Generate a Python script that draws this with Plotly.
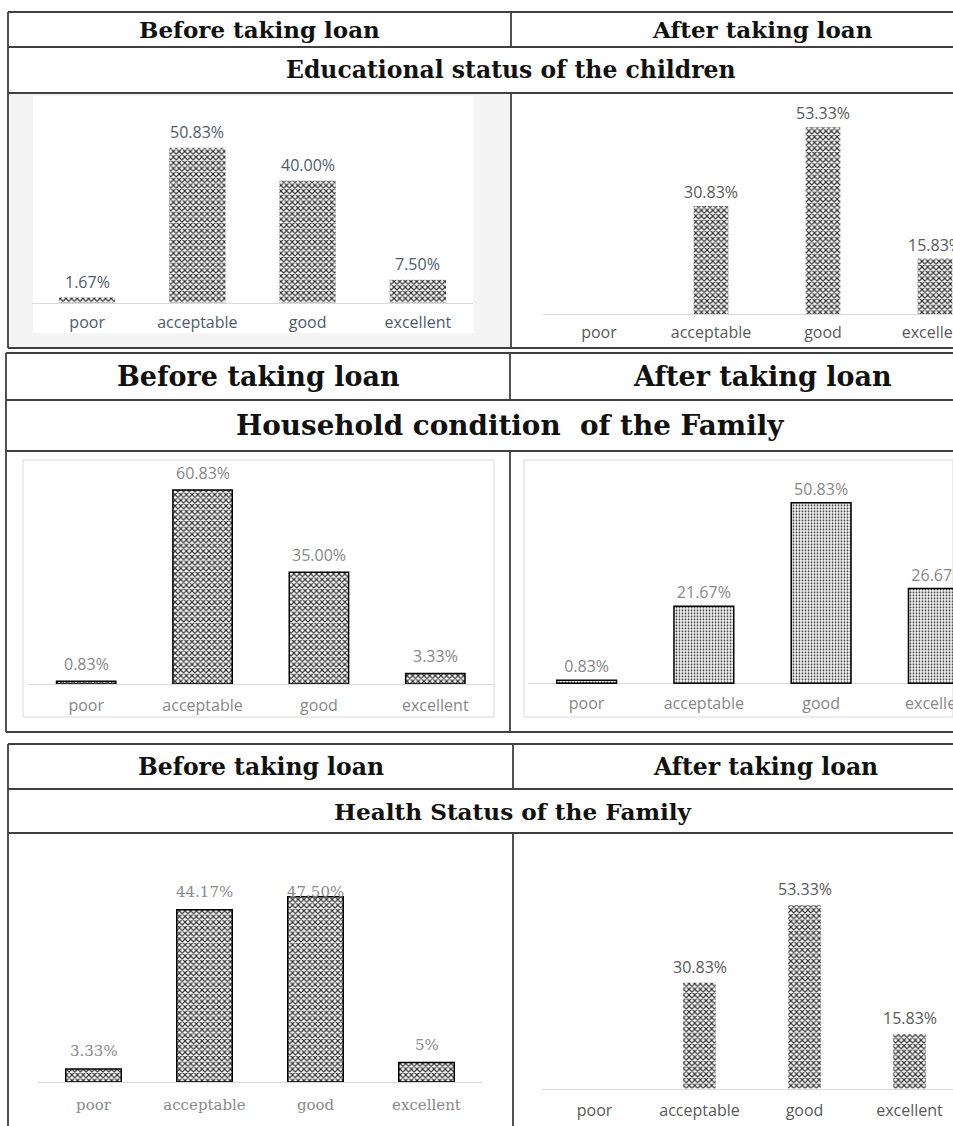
import plotly.graph_objects as go

W, H = 953, 1126

# ---------------- data ----------------
categories = ["poor", "acceptable", "good", "excellent"]
edu_before = [1.67, 50.83, 40.00, 7.50]
edu_after = [0, 30.83, 53.33, 15.83]
house_before = [0.83, 60.83, 35.00, 3.33]
house_after = [0.83, 21.67, 50.83, 26.67]
health_before = [3.33, 44.17, 47.50, 5.00]
health_after = [0, 30.83, 53.33, 15.83]
health_before_labels = ["3.33%", "44.17%", "47.50%", "5%"]

col_titles = ["Before taking loan", "After taking loan"]
section_titles = ["Educational status of the children",
                  "Household condition  of the Family",
                  "Health Status of the Family"]


def X(px):
    return min(max(px, 0), W) / W


def Y(py):
    return 1 - min(max(py, 0), H) / H


def fmt(vals):
    return ["" if v == 0 else f"{v:.2f}%" for v in vals]


SANS = "Open Sans, Lato, sans-serif"
SERIF = "DejaVu Serif, serif"

# edge=True: the chart is cut by the right edge of the picture, so its value labels and
# category labels are drawn inside the (clipped) plot area instead of overflowing the page
charts = [
    dict(vals=edu_before, labels=fmt(edu_before), x0=32, x1=473, xend=3.5, base=302.7, scale=3.05,
         width=0.51, shape="x", psize=4, sol=0.5, fg="#333333", line=0, font=SANS,
         lcolor="#4d5b6e", tcolor="#4d5b6e", stand=5, gap=16, fsize=16, shifts=None, edge=False),
    dict(vals=edu_after, labels=fmt(edu_after), x0=543, x1=953, xend=3.5 - (991 - 953) / 112, base=314, scale=3.5,
         width=0.31, shape="x", psize=4, sol=0.5, fg="#333333", line=0, font=SANS,
         lcolor="#595959", tcolor="#595959", stand=19.5, gap=16, fsize=16, shifts=None, edge=True),
    dict(vals=house_before, labels=fmt(house_before), x0=28, x1=493.5, xend=3.5, base=684, scale=3.19,
         width=0.51, shape="x", psize=4, sol=0.5, fg="#333333", line=1.5, font=SANS,
         lcolor="#878787", tcolor="#878787", stand=7, gap=17, fsize=16, shifts=None, edge=False),
    dict(vals=house_after, labels=fmt(house_after), x0=528, x1=953, xend=3.5 - (997 - 953) / 117.3, base=683.3, scale=3.55,
         width=0.51, shape=".", psize=3, sol=0.35, fg="#3a3a3a", line=1.5, font=SANS,
         lcolor="#878787", tcolor="#878787", stand=21.5, gap=17, fsize=16, shifts=None, edge=True),
    dict(vals=health_before, labels=health_before_labels, x0=38, x1=482, xend=3.5, base=1082, scale=3.9,
         width=0.5, shape="x", psize=4, sol=0.5, fg="#333333", line=1.5, font=SERIF,
         lcolor="#8a8a8a", tcolor="#8a8a8a", stand=9, gap=18, fsize=15, shifts={2: 5}, edge=False),
    dict(vals=health_after, labels=fmt(health_after), x0=542, x1=953, xend=3.5 - (962 - 953) / 105, base=1088.7, scale=3.44,
         width=0.31, shape="x", psize=4, sol=0.5, fg="#333333", line=0, font=SANS,
         lcolor="#595959", tcolor="#595959", stand=7, gap=16, fsize=16, shifts=None, edge=False),
]

fig = go.Figure()
layout = {}
annotations = []
shapes = []

# ---------- background cells / chart frames ----------
shapes.append(dict(type="rect", xref="paper", yref="paper", x0=X(9), x1=X(510), y0=Y(347), y1=Y(94),
                   fillcolor="#f4f4f4", line=dict(width=0), layer="below"))
shapes.append(dict(type="rect", xref="paper", yref="paper", x0=X(33), x1=X(474), y0=Y(333), y1=Y(96),
                   fillcolor="#ffffff", line=dict(width=0), layer="below"))
for (a, b) in [(23, 494), (524, 953)]:
    shapes.append(dict(type="rect", xref="paper", yref="paper", x0=X(a), x1=X(b), y0=Y(717), y1=Y(460),
                       fillcolor="rgba(0,0,0,0)", line=dict(color="#d9d9d9", width=1), layer="below"))

for i, c in enumerate(charts, start=1):
    ymax = 70
    below = 34 if c["edge"] else 0          # px of room under the baseline (edge charts only)
    top = c["base"] - ymax * c["scale"]
    ymin = -below / c["scale"]
    xa = "xaxis" if i == 1 else f"xaxis{i}"
    ya = "yaxis" if i == 1 else f"yaxis{i}"
    xr = "x" if i == 1 else f"x{i}"
    yr = "y" if i == 1 else f"y{i}"
    bar_kw = {}
    if c["edge"]:
        bar_kw = dict(text=c["labels"], textposition="outside", cliponaxis=True, constraintext="none",
                      textangle=0,
                      outsidetextfont=dict(family=c["font"], size=c["fsize"], color=c["lcolor"]))
    fig.add_trace(go.Bar(
        x=categories, y=c["vals"], width=c["width"], xaxis=xr, yaxis=yr,
        marker=dict(color="white",
                    pattern=dict(shape=c["shape"], size=c["psize"], solidity=c["sol"],
                                 fgcolor=c["fg"], bgcolor="white", fillmode="replace"),
                    line=dict(color="black", width=c["line"])),
        showlegend=False, hoverinfo="skip", **bar_kw))
    if c["edge"]:
        # category names as clipped text just under the baseline
        fig.add_trace(go.Scatter(
            x=categories, y=[-c["stand"] / c["scale"]] * len(categories), mode="text",
            text=categories, textposition="middle center", cliponaxis=True,
            textfont=dict(family=c["font"], size=c["fsize"], color=c["tcolor"]),
            xaxis=xr, yaxis=yr, showlegend=False, hoverinfo="skip"))
        layout[xa] = dict(domain=[X(c["x0"]), X(c["x1"])], anchor=yr, type="category",
                          range=[-0.5, c["xend"]], showline=False, showticklabels=False,
                          showgrid=False, zeroline=False, ticks="", fixedrange=True)
        layout[ya] = dict(domain=[Y(c["base"] + below), Y(top)], anchor=xr, range=[ymin, ymax],
                          showticklabels=False, ticks="", showgrid=False, showline=False,
                          zeroline=True, zerolinecolor="#d9d9d9", zerolinewidth=1, fixedrange=True)
    else:
        layout[xa] = dict(domain=[X(c["x0"]), X(c["x1"])], anchor=yr, type="category",
                          range=[-0.5, c["xend"]], showline=True, linecolor="#d9d9d9", linewidth=1,
                          showgrid=False, zeroline=False, ticks="", fixedrange=True,
                          tickfont=dict(family=c["font"], size=c["fsize"], color=c["tcolor"]),
                          ticklabelstandoff=c["stand"])
        layout[ya] = dict(domain=[Y(c["base"]), Y(top)], anchor=xr, range=[0, ymax], visible=False,
                          fixedrange=True)
        for j, (cat, v, t) in enumerate(zip(categories, c["vals"], c["labels"])):
            if not t:
                continue
            shift = c["gap"]
            if c["shifts"] and j in c["shifts"]:
                shift = c["shifts"][j]
            annotations.append(dict(x=cat, y=v, xref=xr, yref=yr, text=t, showarrow=False,
                                    yanchor="middle", yshift=shift,
                                    font=dict(family=c["font"], size=c["fsize"], color=c["lcolor"])))

# ---------- table grids ----------
LC = "#404040"
LW = 1.8
tables = [
    dict(left=8, top=12, r1=47, r2=93, bottom=348, div=511, f1=23, f2=23.5),
    dict(left=6, top=353, r1=400, r2=451, bottom=732, div=510, f1=27, f2=27.8),
    dict(left=8, top=744, r1=789, r2=833, bottom=None, div=513, f1=23.5, f2=23.2),
]


def hline(y, x0, x1):
    shapes.append(dict(type="line", xref="paper", yref="paper", x0=X(x0), x1=X(x1), y0=Y(y), y1=Y(y),
                       line=dict(color=LC, width=LW)))


def vline(x, y0, y1):
    shapes.append(dict(type="line", xref="paper", yref="paper", x0=X(x), x1=X(x), y0=Y(y0), y1=Y(y1),
                       line=dict(color=LC, width=LW)))


for k, t in enumerate(tables):
    bottom = t["bottom"] if t["bottom"] is not None else H
    for y in (t["top"], t["r1"], t["r2"], t["bottom"]):
        if y is not None:
            hline(y, t["left"], W)
    vline(t["left"], t["top"], bottom)
    vline(t["div"], t["top"], t["r1"])
    vline(t["div"], t["r2"], bottom)
    right = 2 * t["div"] - t["left"]
    cy1 = (t["top"] + t["r1"]) / 2
    cy2 = (t["r1"] + t["r2"]) / 2
    for txt, cx in zip(col_titles, [(t["left"] + t["div"]) / 2, (t["div"] + right) / 2]):
        annotations.append(dict(x=cx / W, y=Y(cy1), xref="paper", yref="paper", text=txt,
                                showarrow=False, xanchor="center", yanchor="middle",
                                font=dict(family=SERIF, size=t["f1"], color="#111111", weight="bold")))
    annotations.append(dict(x=X(t["div"]), y=Y(cy2), xref="paper", yref="paper", text=section_titles[k],
                            showarrow=False, xanchor="center", yanchor="middle",
                            font=dict(family=SERIF, size=t["f2"], color="#111111", weight="bold")))

fig.update_layout(
    width=W, height=H, autosize=False, margin=dict(l=0, r=0, t=0, b=0),
    paper_bgcolor="white", plot_bgcolor="rgba(0,0,0,0)",
    annotations=annotations, shapes=shapes, showlegend=False, bargap=0.5,
    **layout)

fig.write_html("out.html", config={"displayModeBar": False, "responsive": False})
